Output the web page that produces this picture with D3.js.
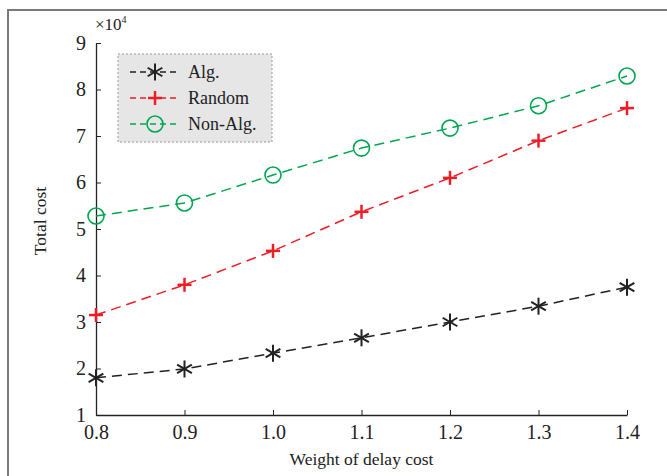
<!DOCTYPE html>
<html>
<head>
<meta charset="utf-8">
<script src="https://cdn.jsdelivr.net/npm/d3@7"></script>
<style>
body { margin: 0; background: #fff; }
svg text { font-family: "Liberation Serif", "DejaVu Serif", serif; fill: #222; }
</style>
</head>
<body>
<div id="chart"></div>
<script>
// chart values
var weights = [0.8, 0.9, 1.0, 1.1, 1.2, 1.3, 1.4];
var algCost = [1.80, 1.99, 2.33, 2.66, 3.00, 3.34, 3.75];
var randomCost = [3.15, 3.80, 4.53, 5.37, 6.10, 6.90, 7.60];
var nonAlgCost = [5.28, 5.56, 6.16, 6.74, 7.17, 7.65, 8.29];
var xTicks = [0.8, 0.9, 1.0, 1.1, 1.2, 1.3, 1.4];
var yTicks = [1, 2, 3, 4, 5, 6, 7, 8, 9];
var seriesNames = ["Alg.", "Random", "Non-Alg."];

let W = 667, H = 476;
let margin = {top: 43, right: 40, bottom: 61, left: 96};
let width = W - margin.left - margin.right;
let height = H - margin.top - margin.bottom;

let x = d3.scaleLinear().domain([0.8, 1.4]).range([0, width]);
let y = d3.scaleLinear().domain([1, 9]).range([height, 0]);

let svg = d3.select('#chart').append('svg')
    .attr('width', W).attr('height', H);

// outer frame (cut off at right and bottom like the scan)
svg.append('rect')
    .attr('x', 8).attr('y', 10)
    .attr('width', W + 10).attr('height', H + 10)
    .attr('fill', 'none').attr('stroke', '#7a7a7a').attr('stroke-width', 2);

let g = svg.append('g').attr('transform', 'translate(' + margin.left + ',' + margin.top + ')');

// axes
let xAxis = d3.axisBottom(x).tickValues(xTicks).tickFormat(d3.format('.1f')).tickSizeInner(-5).tickSizeOuter(0).tickPadding(10);
let yAxis = d3.axisLeft(y).tickValues(yTicks).tickFormat(d3.format('d')).tickSizeInner(-5).tickSizeOuter(0).tickPadding(10);

let gx = g.append('g').attr('transform', 'translate(0,' + height + ')').call(xAxis);
let gy = g.append('g').call(yAxis);
[gx, gy].forEach(a => {
    a.select('.domain').attr('stroke', '#222').attr('stroke-width', 1.3);
    a.selectAll('.tick line').attr('stroke', '#222').attr('stroke-width', 1);
    a.selectAll('text').style('font-size', '20px').style('font-family', '"Liberation Serif", serif').attr('fill', '#222');
});

// exponent label
let expo = g.append('text').attr('x', -1).attr('y', -13).style('font-size', '17px');
expo.append('tspan').text('\u00d710');
expo.append('tspan').attr('dy', -7).style('font-size', '10px').text('4');

// axis titles
g.append('text')
    .attr('x', width / 2).attr('y', height + 50)
    .attr('text-anchor', 'middle').style('font-size', '17.5px')
    .text('Weight of delay cost');
g.append('text')
    .attr('transform', 'rotate(-90)')
    .attr('x', -height / 2 + 8).attr('y', -50)
    .attr('text-anchor', 'middle').style('font-size', '17.5px')
    .text('Total cost');

// marker helpers
let drawStar = (sel, cx, cy, color) => {
    let r = 8.5;
    for (let k = 0; k < 3; k++) {
        let a = Math.PI / 2 + k * Math.PI / 3;
        sel.append('line')
            .attr('x1', cx - r * Math.cos(a)).attr('y1', cy - r * Math.sin(a))
            .attr('x2', cx + r * Math.cos(a)).attr('y2', cy + r * Math.sin(a))
            .attr('stroke', color).attr('stroke-width', 2);
    }
};
let drawPlus = (sel, cx, cy, color) => {
    let r = 7;
    sel.append('line').attr('x1', cx - r).attr('y1', cy).attr('x2', cx + r).attr('y2', cy)
        .attr('stroke', color).attr('stroke-width', 2.5);
    sel.append('line').attr('x1', cx).attr('y1', cy - r).attr('x2', cx).attr('y2', cy + r)
        .attr('stroke', color).attr('stroke-width', 2.5);
};
let drawCircle = (sel, cx, cy, color) => {
    sel.append('circle').attr('cx', cx).attr('cy', cy).attr('r', 8)
        .attr('fill', 'none').attr('stroke', color).attr('stroke-width', 1.6);
};

let series = [
    {name: seriesNames[0], values: algCost, color: '#222222', marker: drawStar},
    {name: seriesNames[1], values: randomCost, color: '#ee1c25', marker: drawPlus},
    {name: seriesNames[2], values: nonAlgCost, color: '#00a651', marker: drawCircle}
];

let line = d3.line().x((d, i) => x(weights[i])).y(d => y(d));

series.forEach(s => {
    g.append('path')
        .attr('d', line(s.values))
        .attr('fill', 'none').attr('stroke', s.color)
        .attr('stroke-width', 1.5).attr('stroke-dasharray', '10,6');
    let mg = g.append('g');
    s.values.forEach((v, i) => s.marker(mg, x(weights[i]), y(v), s.color));
});

// legend
let lg = svg.append('g').attr('transform', 'translate(118,54)');
lg.append('rect').attr('width', 154).attr('height', 88)
    .attr('fill', '#e6e6e6').attr('stroke', '#999').attr('stroke-width', 1)
    .attr('stroke-dasharray', '2,2');
series.forEach((s, i) => {
    let ly = 18 + i * 26;
    lg.append('line').attr('x1', 12).attr('x2', 62).attr('y1', ly).attr('y2', ly)
        .attr('stroke', s.color).attr('stroke-width', 1.5).attr('stroke-dasharray', '6,4');
    s.marker(lg, 37, ly, s.color);
    lg.append('text').attr('x', 70).attr('y', ly + 6).style('font-size', '18px').text(s.name);
});
</script>
</body>
</html>
